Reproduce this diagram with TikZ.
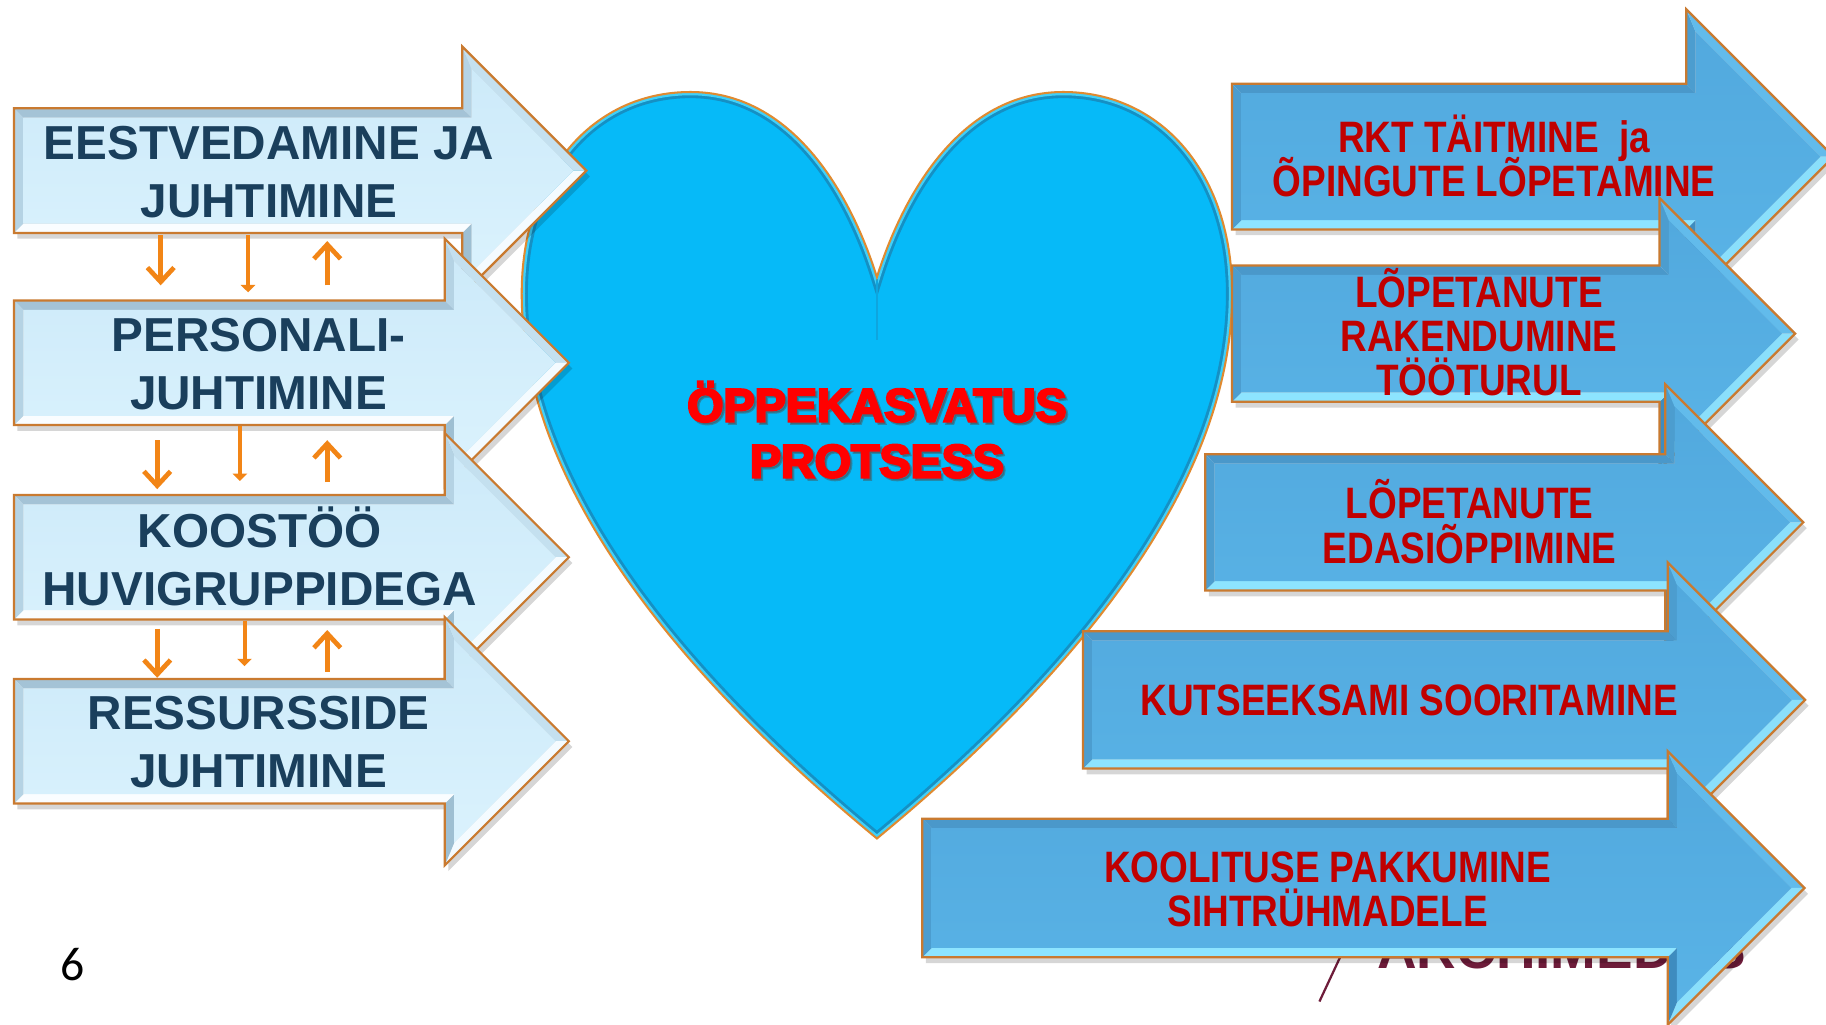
\documentclass[tikz,border=0pt]{standalone}
\usepackage{fontspec}
\setmainfont{Liberation Sans}
\newfontfamily\narrowfont[FakeStretch=0.84]{Liberation Sans}
\newfontfamily\heavyfont[BoldFeatures={FakeBold=5}]{Liberation Sans}
\newfontfamily\calfont{Carlito}
\usetikzlibrary{arrows.meta}
\lineskiplimit=-50pt\relax

\definecolor{Ltop}{HTML}{A4C3D6}
\definecolor{Lleft}{HTML}{B5D3E4}
\definecolor{Lhup}{HTML}{C4E0EF}
\definecolor{Lhlow}{HTML}{F4FBFF}
\definecolor{Lhbl}{HTML}{9EBFD2}
\definecolor{Lbot}{HTML}{FAFDFF}
\definecolor{LfaceT}{HTML}{CDEAF9}
\definecolor{LfaceB}{HTML}{DAF2FD}
\definecolor{Rtop}{HTML}{4A98CA}
\definecolor{Rleft}{HTML}{4C9DCF}
\definecolor{Rhup}{HTML}{62BBEB}
\definecolor{Rhlow}{HTML}{8ADFFB}
\definecolor{Rhbl}{HTML}{3E8CBF}
\definecolor{Rbot}{HTML}{8DE4FF}
\definecolor{RfaceT}{HTML}{52A9DE}
\definecolor{RfaceB}{HTML}{59B3E6}
\definecolor{rim}{HTML}{C97A30}
\definecolor{navy}{HTML}{1A3F5C}
\definecolor{darkred}{HTML}{C00000}
\definecolor{heartfill}{HTML}{06BAF8}
\definecolor{heartdark}{HTML}{1590C4}
\definecolor{heartlight}{HTML}{3FD0FA}
\definecolor{heartrim}{HTML}{E08A30}
\definecolor{conn}{HTML}{F28516}
\definecolor{logo}{HTML}{6E1C3A}

% #1 name, #2 palette, #3 x0, #4 ytop, #5 ybottom, #6 x of head base, #7 head overhang
\newcommand{\bevarrow}[7]{%
 \pgfmathsetmacro\Aym{(#4+#5)/2}%
 \pgfmathsetmacro\Ayht{#4-#7}%
 \pgfmathsetmacro\Ayhb{#5+#7}%
 \pgfmathsetmacro\Axt{#6+\Aym-\Ayht}%
 \def\Ad{8}%
 \pgfmathsetmacro\Adb{2.414*\Ad}%
 \pgfmathsetmacro\Adc{1.414*\Ad}%
 \fill[black,opacity=0.16] (#3+3,#4+5)--(#6+3,#4+5)--(#6+3,\Ayht+5)--(\Axt+3,\Aym+5)--(#6+3,\Ayhb+5)--(#6+3,#5+5)--(#3+3,#5+5)--cycle;
 \coordinate (#1-o1) at (#3,#4);
 \coordinate (#1-o2) at (#6,#4);
 \coordinate (#1-o3) at (#6,\Ayht);
 \coordinate (#1-o4) at (\Axt,\Aym);
 \coordinate (#1-o5) at (#6,\Ayhb);
 \coordinate (#1-o6) at (#6,#5);
 \coordinate (#1-o7) at (#3,#5);
 \coordinate (#1-i1) at (#3+\Ad,#4+\Ad);
 \coordinate (#1-i2) at (#6+\Ad,#4+\Ad);
 \coordinate (#1-i3) at (#6+\Ad,\Ayht+\Adb);
 \coordinate (#1-i4) at (\Axt-\Adc,\Aym);
 \coordinate (#1-i5) at (#6+\Ad,\Ayhb-\Adb);
 \coordinate (#1-i6) at (#6+\Ad,#5-\Ad);
 \coordinate (#1-i7) at (#3+\Ad,#5-\Ad);
 \fill[#2top] (#1-o1)--(#1-o2)--(#1-i2)--(#1-i1)--cycle;
 \fill[#2left] (#1-o2)--(#1-o3)--(#1-i3)--(#1-i2)--cycle;
 \fill[#2hup] (#1-o3)--(#1-o4)--(#1-i4)--(#1-i3)--cycle;
 \fill[#2hlow] (#1-o4)--(#1-o5)--(#1-i5)--(#1-i4)--cycle;
 \fill[#2hbl] (#1-o5)--(#1-o6)--(#1-i6)--(#1-i5)--cycle;
 \fill[#2bot] (#1-o6)--(#1-o7)--(#1-i7)--(#1-i6)--cycle;
 \fill[#2left] (#1-o7)--(#1-o1)--(#1-i1)--(#1-i7)--cycle;
 \shade[top color=#2faceT, bottom color=#2faceB] (#1-i1)--(#1-i2)--(#1-i3)--(#1-i4)--(#1-i5)--(#1-i6)--(#1-i7)--cycle;
 \draw[rim, line width=1.1pt, line join=miter] (#1-o1)--(#1-o2)--(#1-o3)--(#1-o4)--(#1-o5)--(#1-o6)--(#1-o7)--cycle;
}

\def\heartpath{(753,238) .. controls (730,165) and (680,79) .. (593,79) .. controls (508,79) and (448,150) .. (448,252) .. controls (448,405) and (565,565) .. (753,720) .. controls (941,565) and (1058,405) .. (1058,252) .. controls (1058,150) and (998,79) .. (913,79) .. controls (826,79) and (776,165) .. (753,238) -- cycle}

\tikzset{
 lefttext/.style={text=navy, align=center, inner sep=0pt, font=\bfseries\fontsize{23.3}{28.4}\selectfont},
 righttext/.style={text=darkred, align=center, inner sep=0pt, font=\narrowfont\bfseries\fontsize{21.5}{21.6}\selectfont},
 hearttext/.style={align=center, inner sep=0pt, font=\heavyfont\bfseries\fontsize{22.8}{27.3}\selectfont},
 downarr/.style={draw=conn, line width=2.3pt, -{Straight Barb[length=7pt,width=13pt]}},
 midarr/.style={draw=conn, line width=1.9pt, -{Triangle[length=3.6pt,width=7pt]}},
}

\begin{document}
\begin{tikzpicture}[x=0.02cm, y=-0.02cm]
\useasboundingbox (0,0) rectangle (1568,880);
\fill[white] (0,0) rectangle (1568,880);

% logo behind
\node[anchor=base, text=logo, inner sep=0pt, font=\bfseries\fontsize{26.8}{30}\selectfont] (logo) at (1341,832) {ARCHIMEDES};
\coordinate (la) at (1154,815);
\coordinate (lb) at (1133,860);
\draw[logo, line width=1.1pt] (la) -- (lb);

% heart
\fill[heartfill] \heartpath;
\begin{scope}
 \clip \heartpath;
 \draw[heartdark, line width=6pt] \heartpath;
 \draw[heartlight, line width=3.2pt] \heartpath;
 \draw[heartdark!50!heartfill, line width=1pt] (753,240) -- (753,292);
\end{scope}
\draw[heartrim, line width=1pt] \heartpath;
\node[hearttext, text=black!70, opacity=0.45] (heartshadow) at (755,371) {ÖPPEKASVATUS\\PROTSESS};
\node[hearttext, text=red] (heartlabel) at (753,369) {ÖPPEKASVATUS\\PROTSESS};

% left arrows
\bevarrow{a1}{L}{12}{93}{200}{397}{53}
\node[lefttext] (t1) at (231,148) {EESTVEDAMINE JA\\JUHTIMINE};
\bevarrow{a2}{L}{12}{258}{365}{382}{53}
\node[lefttext] (t2) at (222,313) {PERSONALI-\\JUHTIMINE};
\bevarrow{a3}{L}{12}{425}{532}{382}{53}
\node[lefttext] (t3) at (223,478) {KOOSTÖÖ\\HUVIGRUPPIDEGA};
\bevarrow{a4}{L}{12}{583}{690}{382}{53}
\node[lefttext] (t4) at (222,637) {RESSURSSIDE\\JUHTIMINE};

% connectors between left arrows
\coordinate (c1a) at (138,202); \coordinate (c1b) at (138,245);
\coordinate (c2a) at (213,202); \coordinate (c2b) at (213,251);
\coordinate (c3a) at (281,245); \coordinate (c3b) at (281,207);
\draw[downarr] (c1a) -- (c1b);
\draw[midarr] (c2a) -- (c2b);
\draw[downarr] (c3a) -- (c3b);
\coordinate (c4a) at (135,378); \coordinate (c4b) at (135,420);
\coordinate (c5a) at (206,366); \coordinate (c5b) at (206,413);
\coordinate (c6a) at (281,414); \coordinate (c6b) at (281,378);
\draw[downarr] (c4a) -- (c4b);
\draw[midarr] (c5a) -- (c5b);
\draw[downarr] (c6a) -- (c6b);
\coordinate (c7a) at (135,540); \coordinate (c7b) at (135,582);
\coordinate (c8a) at (210,533); \coordinate (c8b) at (210,572);
\coordinate (c9a) at (281,577); \coordinate (c9b) at (281,541);
\draw[downarr] (c7a) -- (c7b);
\draw[midarr] (c8a) -- (c8b);
\draw[downarr] (c9a) -- (c9b);

% right arrows
\bevarrow{r1}{R}{1058}{72}{197}{1448}{64}
\node[righttext] (rt1) at (1283,134) {RKT TÄITMINE~ ja\\ÕPINGUTE LÕPETAMINE};
\bevarrow{r2}{R}{1058}{228}{345}{1425}{58}
\node[righttext] (rt2) at (1270,285) {LÕPETANUTE\\RAKENDUMINE\\TÖÖTURUL};
\bevarrow{r3}{R}{1035}{390}{507}{1430}{60}
\node[righttext] (rt3) at (1262,448) {LÕPETANUTE\\EDASIÕPPIMINE};
\bevarrow{r4}{R}{930}{542}{660}{1432}{59}
\node[righttext] (rt4) at (1210,601) {KUTSEEKSAMI SOORITAMINE};
\bevarrow{r5}{R}{792}{703}{822}{1432}{58}
\node[righttext] (rt5) at (1140,764) {KOOLITUSE PAKKUMINE\\SIHTRÜHMADELE};

% page number
\node[inner sep=0pt, font=\calfont\fontsize{23.3}{28}\selectfont] (pagenum) at (62,828) {6};
\end{tikzpicture}
\end{document}
